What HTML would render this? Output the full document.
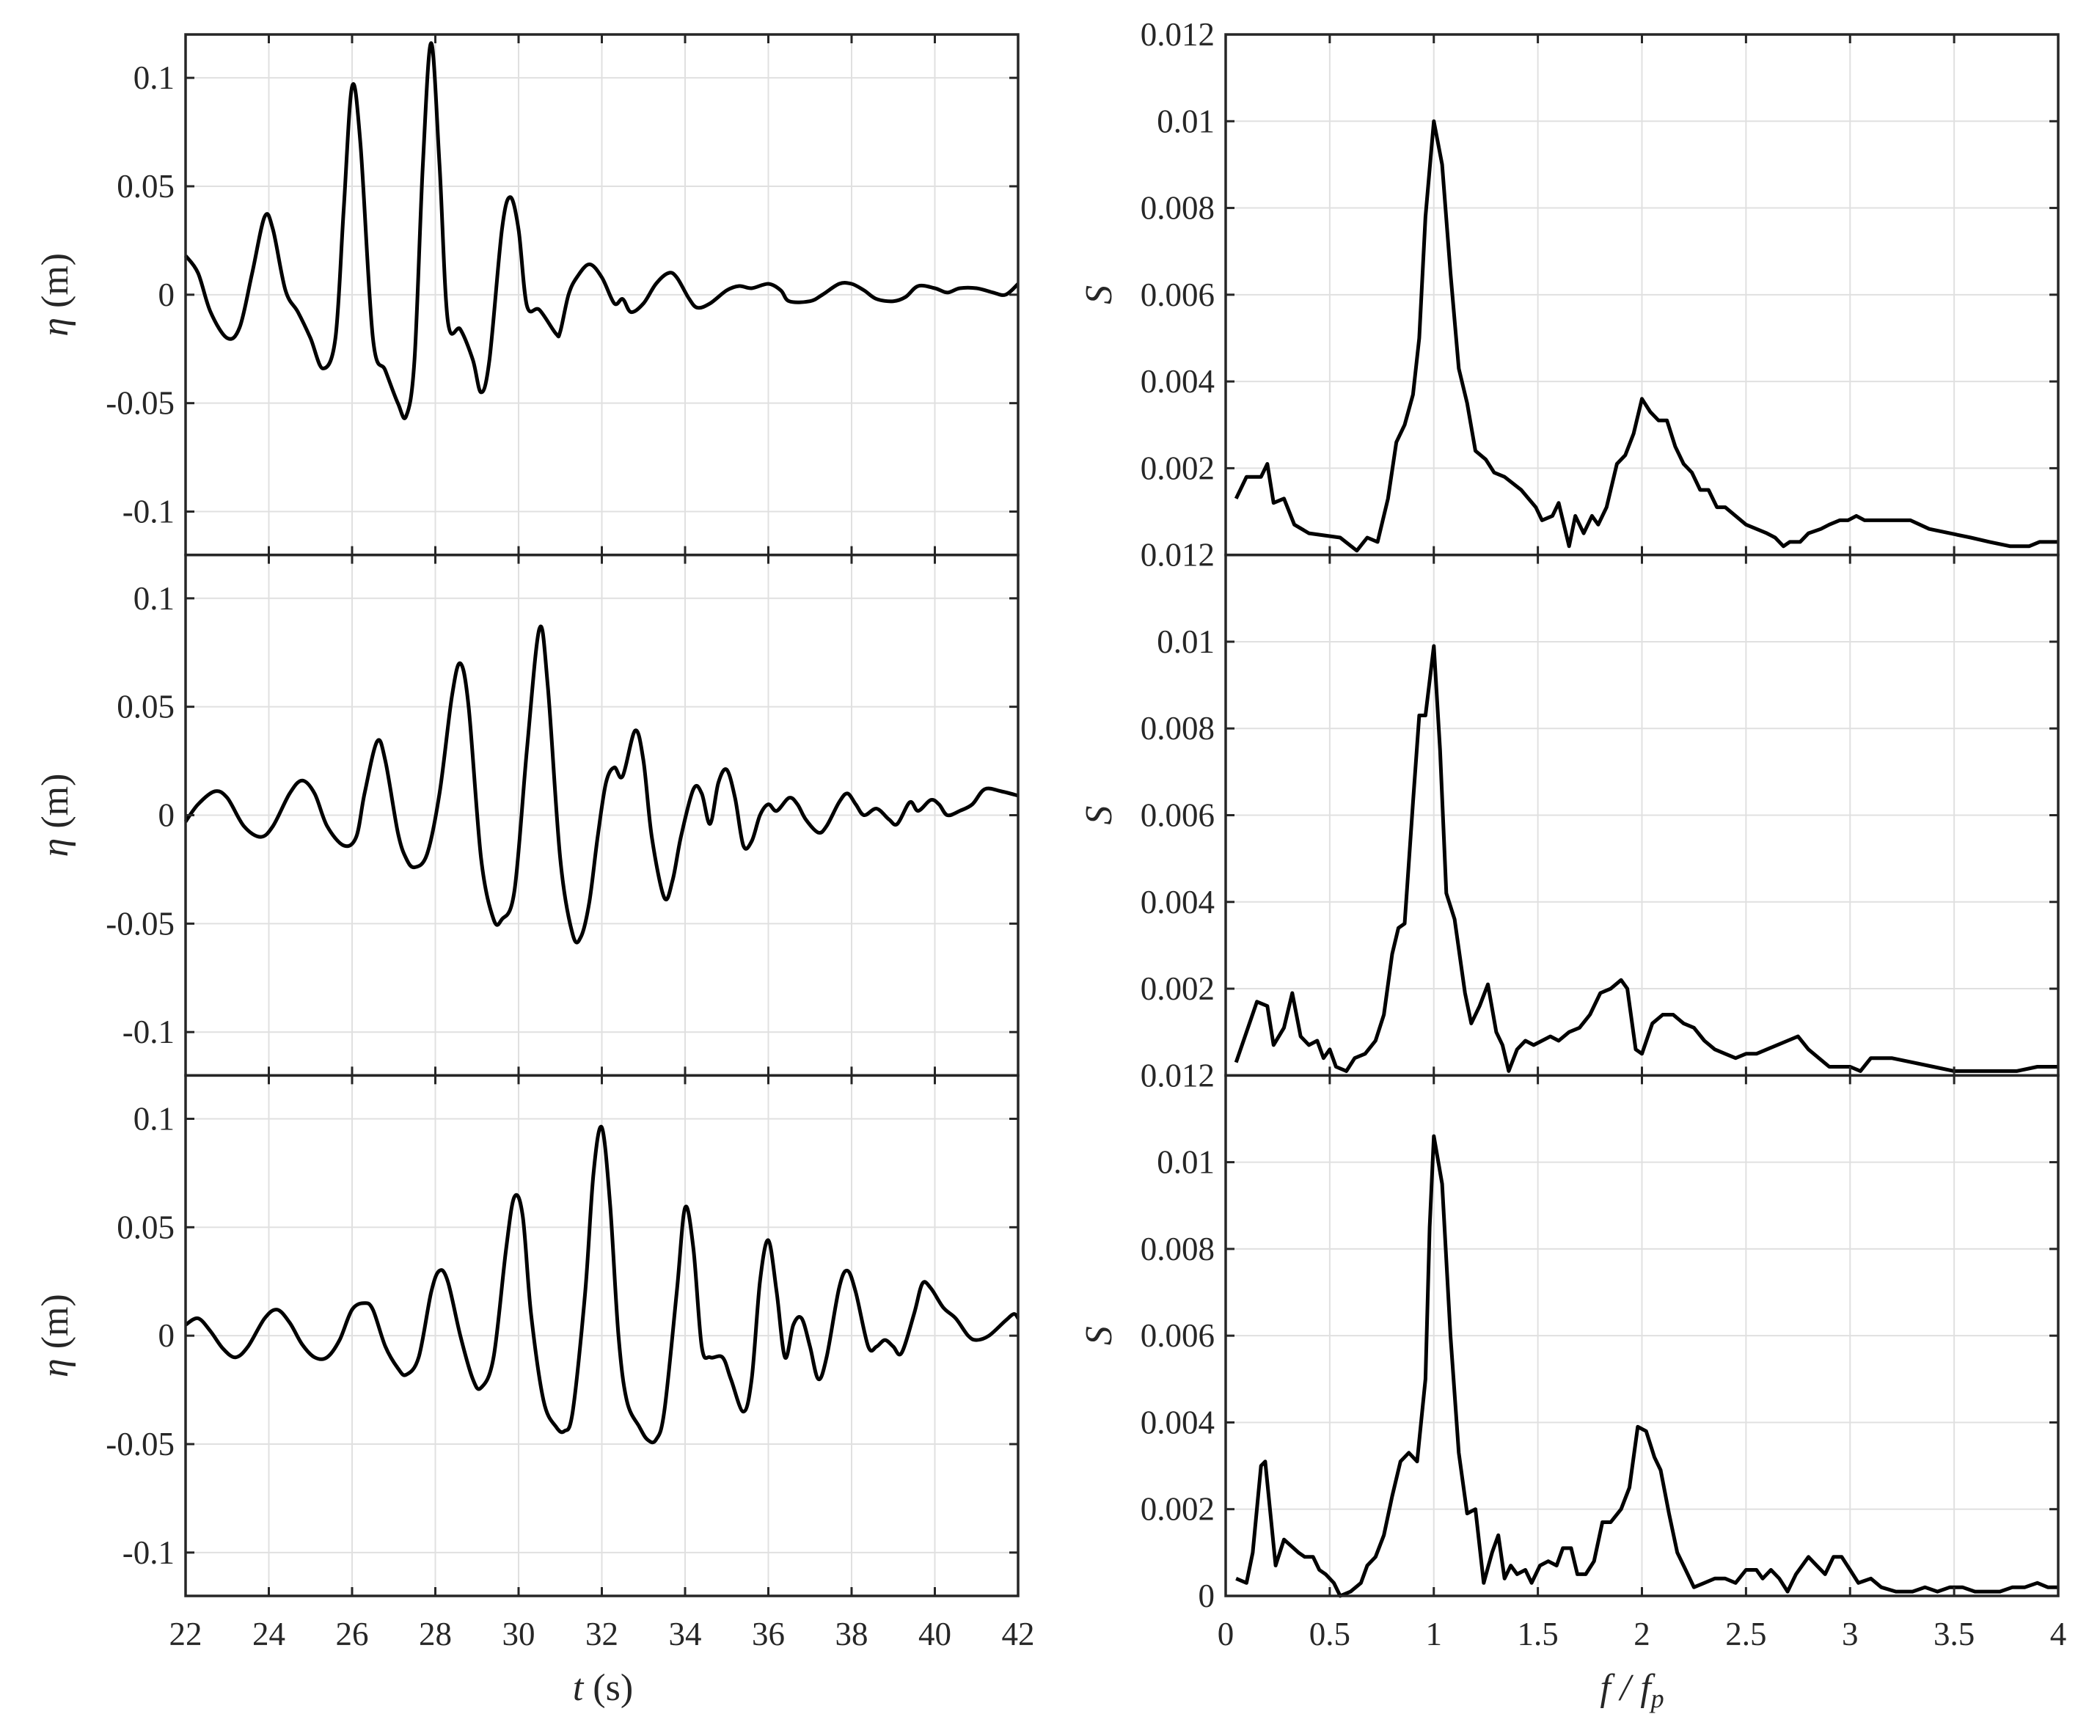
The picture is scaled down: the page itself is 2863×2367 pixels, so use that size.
<!DOCTYPE html>
<html><head><meta charset="utf-8"><style>
html,body{margin:0;padding:0;background:#fff;}
svg text{font-family:"Liberation Serif",serif;fill:#262626;}
</style></head><body>
<svg id="fig" xmlns="http://www.w3.org/2000/svg" width="2863" height="2362" viewBox="0 0 2863 2362"></svg>
<script>
// ---- data ----
const tTicks = [22,24,26,28,30,32,34,36,38,40,42];
const etaTicks = [-0.1,-0.05,0,0.05,0.1];
const etaTickLabels = ["-0.1","-0.05","0","0.05","0.1"];
const fTicks = [0,0.5,1,1.5,2,2.5,3,3.5,4];
const fTickLabels = ["0","0.5","1","1.5","2","2.5","3","3.5","4"];
const sTicks = [0,0.002,0.004,0.006,0.008,0.01,0.012];
const sTickLabels = ["0","0.002","0.004","0.006","0.008","0.01","0.012"];

const t1 = [22.0,22.3,22.6,23.0,23.3,23.6,23.9,24.1,24.4,24.7,25.0,25.3,25.6,25.8,26.0,26.2,26.5,26.8,27.1,27.3,27.5,27.7,27.9,28.1,28.3,28.6,28.9,29.1,29.3,29.6,29.8,30.0,30.2,30.5,30.9,31.0,31.2,31.4,31.7,32.0,32.3,32.5,32.7,33.0,33.3,33.6,33.8,34.1,34.3,34.6,35.0,35.3,35.6,36.0,36.3,36.5,37.0,37.3,37.7,38.0,38.3,38.6,39.0,39.3,39.6,40.0,40.3,40.6,41.0,41.4,41.7,42.0];
const eta1 = [0.018,0.01,-0.008,-0.02,-0.015,0.01,0.036,0.03,0.002,-0.008,-0.02,-0.034,-0.02,0.04,0.096,0.07,-0.02,-0.035,-0.05,-0.056,-0.03,0.06,0.116,0.06,-0.012,-0.016,-0.03,-0.045,-0.03,0.03,0.045,0.03,-0.005,-0.007,-0.018,-0.017,0,0.008,0.014,0.008,-0.004,-0.002,-0.008,-0.004,0.005,0.01,0.008,-0.002,-0.006,-0.004,0.002,0.004,0.003,0.005,0.002,-0.003,-0.003,0.0,0.005,0.005,0.002,-0.002,-0.003,-0.001,0.004,0.003,0.001,0.003,0.003,0.001,0.0,0.005];

const t2 = [22.0,22.3,22.7,23.0,23.4,23.8,24.1,24.5,24.8,25.1,25.4,25.8,26.1,26.3,26.6,26.8,27.1,27.3,27.5,27.8,28.1,28.4,28.6,28.8,29.1,29.4,29.6,29.9,30.2,30.5,30.7,31.0,31.3,31.5,31.7,31.9,32.1,32.3,32.5,32.8,33.0,33.2,33.5,33.7,33.9,34.2,34.4,34.6,34.8,35.0,35.2,35.4,35.6,35.8,36.0,36.2,36.5,36.7,36.9,37.2,37.4,37.7,37.9,38.1,38.3,38.6,38.9,39.1,39.4,39.6,39.9,40.1,40.3,40.6,40.9,41.2,41.6,42.0];
const eta2 = [-0.003,0.005,0.011,0.008,-0.005,-0.01,-0.005,0.01,0.016,0.01,-0.005,-0.014,-0.01,0.01,0.034,0.025,-0.008,-0.02,-0.024,-0.018,0.01,0.055,0.07,0.05,-0.02,-0.048,-0.048,-0.035,0.03,0.086,0.06,-0.02,-0.055,-0.056,-0.04,-0.01,0.015,0.022,0.018,0.039,0.025,-0.01,-0.038,-0.03,-0.01,0.012,0.01,-0.004,0.015,0.021,0.008,-0.014,-0.012,0.0,0.005,0.002,0.008,0.005,-0.002,-0.008,-0.005,0.006,0.01,0.005,0.0,0.003,-0.002,-0.004,0.006,0.002,0.007,0.005,0.0,0.002,0.005,0.012,0.011,0.009];

const t3 = [22.0,22.3,22.6,22.9,23.2,23.5,23.9,24.2,24.5,24.8,25.1,25.4,25.7,26.0,26.3,26.5,26.8,27.1,27.3,27.6,27.9,28.1,28.3,28.6,28.9,29.1,29.4,29.7,29.9,30.1,30.3,30.6,30.9,31.1,31.3,31.6,31.8,32.0,32.2,32.4,32.6,32.9,33.1,33.3,33.5,33.8,34.0,34.2,34.4,34.6,34.9,35.1,35.4,35.6,35.8,36.0,36.2,36.4,36.6,36.8,37.0,37.2,37.4,37.7,37.9,38.1,38.4,38.6,38.8,39.0,39.2,39.5,39.7,39.9,40.2,40.5,40.8,41.0,41.3,41.7,41.9,42.0];
const eta3 = [0.005,0.008,0.002,-0.006,-0.01,-0.005,0.008,0.012,0.006,-0.004,-0.01,-0.01,-0.002,0.012,0.015,0.012,-0.005,-0.015,-0.018,-0.01,0.02,0.03,0.025,0.0,-0.02,-0.024,-0.01,0.04,0.064,0.055,0.01,-0.03,-0.042,-0.044,-0.035,0.02,0.075,0.096,0.06,0.0,-0.03,-0.042,-0.048,-0.048,-0.035,0.02,0.059,0.04,-0.005,-0.01,-0.01,-0.02,-0.035,-0.02,0.025,0.044,0.02,-0.01,0.005,0.008,-0.005,-0.02,-0.01,0.022,0.03,0.02,-0.005,-0.005,-0.002,-0.005,-0.008,0.01,0.024,0.022,0.013,0.008,0.0,-0.002,0.0,0.007,0.01,0.008];

const f1 = [0.05,0.1,0.17,0.2,0.23,0.28,0.33,0.4,0.55,0.63,0.68,0.73,0.78,0.82,0.86,0.9,0.93,0.96,1.0,1.04,1.08,1.12,1.16,1.2,1.25,1.29,1.34,1.42,1.49,1.52,1.57,1.6,1.65,1.68,1.72,1.76,1.79,1.83,1.88,1.92,1.96,2.0,2.04,2.08,2.12,2.16,2.2,2.24,2.28,2.32,2.36,2.4,2.45,2.5,2.55,2.6,2.64,2.68,2.71,2.76,2.8,2.86,2.9,2.95,2.99,3.03,3.07,3.11,3.19,3.29,3.38,3.48,3.58,3.67,3.77,3.86,3.91,4.0];
const s1 = [0.0013,0.0018,0.0018,0.0021,0.0012,0.0013,0.0007,0.0005,0.0004,0.0001,0.0004,0.0003,0.0013,0.0026,0.003,0.0037,0.005,0.0078,0.01,0.009,0.0065,0.0043,0.0035,0.0024,0.0022,0.0019,0.0018,0.0015,0.0011,0.0008,0.0009,0.0012,0.0002,0.0009,0.0005,0.0009,0.0007,0.0011,0.0021,0.0023,0.0028,0.0036,0.0033,0.0031,0.0031,0.0025,0.0021,0.0019,0.0015,0.0015,0.0011,0.0011,0.0009,0.0007,0.0006,0.0005,0.0004,0.0002,0.0003,0.0003,0.0005,0.0006,0.0007,0.0008,0.0008,0.0009,0.0008,0.0008,0.0008,0.0008,0.0006,0.0005,0.0004,0.0003,0.0002,0.0002,0.0003,0.0003];

const f2 = [0.05,0.1,0.15,0.2,0.23,0.28,0.32,0.36,0.4,0.44,0.47,0.5,0.53,0.58,0.62,0.67,0.72,0.76,0.8,0.83,0.86,0.9,0.93,0.96,1.0,1.03,1.06,1.1,1.15,1.18,1.22,1.26,1.3,1.33,1.36,1.4,1.44,1.48,1.52,1.56,1.6,1.65,1.7,1.75,1.8,1.85,1.9,1.93,1.97,2.0,2.05,2.1,2.15,2.2,2.25,2.3,2.35,2.4,2.45,2.5,2.55,2.6,2.65,2.7,2.75,2.8,2.85,2.9,3.0,3.05,3.1,3.2,3.3,3.4,3.5,3.6,3.7,3.8,3.9,4.0];
const s2 = [0.0003,0.001,0.0017,0.0016,0.0007,0.0011,0.0019,0.0009,0.0007,0.0008,0.0004,0.0006,0.0002,0.0001,0.0004,0.0005,0.0008,0.0014,0.0028,0.0034,0.0035,0.0063,0.0083,0.0083,0.0099,0.0075,0.0042,0.0036,0.0019,0.0012,0.0016,0.0021,0.001,0.0007,0.0001,0.0006,0.0008,0.0007,0.0008,0.0009,0.0008,0.001,0.0011,0.0014,0.0019,0.002,0.0022,0.002,0.0006,0.0005,0.0012,0.0014,0.0014,0.0012,0.0011,0.0008,0.0006,0.0005,0.0004,0.0005,0.0005,0.0006,0.0007,0.0008,0.0009,0.0006,0.0004,0.0002,0.0002,0.0001,0.0004,0.0004,0.0003,0.0002,0.0001,0.0001,0.0001,0.0001,0.0002,0.0002];

const f3 = [0.05,0.1,0.13,0.17,0.19,0.24,0.28,0.35,0.38,0.42,0.45,0.48,0.52,0.55,0.6,0.65,0.68,0.72,0.76,0.8,0.84,0.88,0.92,0.96,0.98,1.0,1.04,1.08,1.12,1.16,1.2,1.24,1.28,1.31,1.34,1.37,1.4,1.44,1.47,1.51,1.55,1.59,1.62,1.66,1.69,1.73,1.77,1.81,1.85,1.9,1.94,1.98,2.02,2.06,2.09,2.13,2.17,2.2,2.25,2.3,2.35,2.4,2.45,2.5,2.55,2.58,2.62,2.66,2.7,2.74,2.8,2.84,2.88,2.92,2.96,3.0,3.04,3.1,3.15,3.22,3.3,3.36,3.42,3.48,3.54,3.6,3.66,3.72,3.78,3.84,3.9,3.95,4.0];
const s3 = [0.0004,0.0003,0.001,0.003,0.0031,0.0007,0.0013,0.001,0.0009,0.0009,0.0006,0.0005,0.0003,0.0,0.0001,0.0003,0.0007,0.0009,0.0014,0.0023,0.0031,0.0033,0.0031,0.005,0.0085,0.0106,0.0095,0.006,0.0033,0.0019,0.002,0.0003,0.001,0.0014,0.0004,0.0007,0.0005,0.0006,0.0003,0.0007,0.0008,0.0007,0.0011,0.0011,0.0005,0.0005,0.0008,0.0017,0.0017,0.002,0.0025,0.0039,0.0038,0.0032,0.0029,0.0019,0.001,0.0007,0.0002,0.0003,0.0004,0.0004,0.0003,0.0006,0.0006,0.0004,0.0006,0.0004,0.0001,0.0005,0.0009,0.0007,0.0005,0.0009,0.0009,0.0006,0.0003,0.0004,0.0002,0.0001,0.0001,0.0002,0.0001,0.0002,0.0002,0.0001,0.0001,0.0001,0.0002,0.0002,0.0003,0.0002,0.0002];

// ---- layout ----
const NS = "http://www.w3.org/2000/svg";
const svg = document.getElementById('fig');
const LX0 = 253, LX1 = 1388, RX0 = 1671, RX1 = 2806;
const TOP = 47, BOT = 2176, PH = (BOT - TOP) / 3;
function mk(tag, attrs, parent){ const e = document.createElementNS(NS, tag); for (const k in attrs) e.setAttribute(k, attrs[k]); (parent||svg).appendChild(e); return e; }
const xT = v => LX0 + (v - 22) / 20 * (LX1 - LX0);
const xF = v => RX0 + v / 4 * (RX1 - RX0);
const yEta = (i, v) => TOP + i*PH + (0.12 - v) / 0.24 * PH;
const yS = (i, v) => TOP + i*PH + (0.012 - v) / 0.012 * PH;

function smoothPath(xs, ys){
  let d = `M${xs[0].toFixed(1)},${ys[0].toFixed(1)}`;
  for (let k = 0; k < xs.length-1; k++){
    const x0 = xs[Math.max(k-1,0)], y0 = ys[Math.max(k-1,0)];
    const x1 = xs[k], y1 = ys[k], x2 = xs[k+1], y2 = ys[k+1];
    const x3 = xs[Math.min(k+2,xs.length-1)], y3 = ys[Math.min(k+2,xs.length-1)];
    const c1x = x1 + (x2-x0)/6, c1y = y1 + (y2-y0)/6, c2x = x2 - (x3-x1)/6, c2y = y2 - (y3-y1)/6;
    d += ` C${c1x.toFixed(1)},${c1y.toFixed(1)} ${c2x.toFixed(1)},${c2y.toFixed(1)} ${x2.toFixed(1)},${y2.toFixed(1)}`;
  }
  return d;
}

const etaT = [t1,t2,t3], etaV = [eta1,eta2,eta3];
const specF = [f1,f2,f3], specS = [s1,s2,s3];

for (let i = 0; i < 3; i++){
  const yt = TOP + i*PH, yb = yt + PH;
  const gL = mk('g', {});
  
  
  tTicks.forEach(v => { const l = mk('line', {x1:xT(v), x2:xT(v), y1:yt, y2:yb, stroke:'#e0e0e0','stroke-width':2}, gL);   });
  etaTicks.forEach(v => { const l = mk('line', {x1:LX0, x2:LX1, y1:yEta(i,v), y2:yEta(i,v), stroke:'#e0e0e0','stroke-width':2}, gL);   });
  const pL = mk('path', {d: smoothPath(etaT[i].map(xT), etaV[i].map(v => yEta(i,v))), fill:'none', stroke:'#000','stroke-width':5,'stroke-linejoin':'round'}, gL);
  
  
  tTicks.forEach(v => { mk('line', {x1:xT(v), x2:xT(v), y1:yb, y2:yb-12, stroke:'#262626','stroke-width':3}, gL); mk('line', {x1:xT(v), x2:xT(v), y1:yt, y2:yt+12, stroke:'#262626','stroke-width':3}, gL); });
  etaTicks.forEach((v,k) => {
    mk('line', {x1:LX0, x2:LX0+12, y1:yEta(i,v), y2:yEta(i,v), stroke:'#262626','stroke-width':3}, gL);
    mk('line', {x1:LX1, x2:LX1-12, y1:yEta(i,v), y2:yEta(i,v), stroke:'#262626','stroke-width':3}, gL);
    const tx = mk('text', {x:238, y:yEta(i,v)+15, 'text-anchor':'end','font-size':45}, gL);
    tx.textContent = etaTickLabels[k];
    
    
  });
  const bL = mk('rect', {x:LX0, y:yt, width:LX1-LX0, height:PH, fill:'none', stroke:'#262626','stroke-width':3.5}, gL);
  
  
  const yl = mk('text', {x:0, y:0, 'text-anchor':'middle','font-size':52, transform:`translate(92,${yt+PH/2}) rotate(-90)`}, gL);
  yl.innerHTML = '<tspan font-style="italic">η</tspan> (m)';
  
  

  const gR = mk('g', {});
  
  
  fTicks.forEach(v => { const l = mk('line', {x1:xF(v), x2:xF(v), y1:yt, y2:yb, stroke:'#e0e0e0','stroke-width':2}, gR);   });
  sTicks.forEach(v => { const l = mk('line', {x1:RX0, x2:RX1, y1:yS(i,v), y2:yS(i,v), stroke:'#e0e0e0','stroke-width':2}, gR);   });
  const pts = specF[i].map((f,k) => xF(f).toFixed(1) + ',' + yS(i, specS[i][k]).toFixed(1)).join(' ');
  const pR = mk('polyline', {points: pts, fill:'none', stroke:'#000','stroke-width':5,'stroke-linejoin':'round'}, gR);
  
  
  fTicks.forEach(v => { mk('line', {x1:xF(v), x2:xF(v), y1:yb, y2:yb-12, stroke:'#262626','stroke-width':3}, gR); mk('line', {x1:xF(v), x2:xF(v), y1:yt, y2:yt+12, stroke:'#262626','stroke-width':3}, gR); });
  sTicks.forEach((v,k) => {
    mk('line', {x1:RX0, x2:RX0+12, y1:yS(i,v), y2:yS(i,v), stroke:'#262626','stroke-width':3}, gR);
    mk('line', {x1:RX1, x2:RX1-12, y1:yS(i,v), y2:yS(i,v), stroke:'#262626','stroke-width':3}, gR);
    if (k === 0 && i < 2) return;
    const tx = mk('text', {x:1656, y:yS(i,v)+15, 'text-anchor':'end','font-size':45}, gR);
    tx.textContent = sTickLabels[k];
    
    
  });
  const bR = mk('rect', {x:RX0, y:yt, width:RX1-RX0, height:PH, fill:'none', stroke:'#262626','stroke-width':3.5}, gR);
  
  
  const sl = mk('text', {x:0, y:0, 'text-anchor':'middle','font-size':52,'font-style':'italic', transform:`translate(1515,${yt+PH/2}) rotate(-90)`}, gR);
  sl.textContent = 'S';
  
  
}

tTicks.forEach(v => { const tx = mk('text', {x:xT(v), y:2243, 'text-anchor':'middle','font-size':45}); tx.textContent = String(v);
  
   });
fTicks.forEach((v,k) => { const tx = mk('text', {x:xF(v), y:2243, 'text-anchor':'middle','font-size':45}); tx.textContent = fTickLabels[k];
  
   });

const xl = mk('text', {x:822, y:2318, 'text-anchor':'middle','font-size':52});
xl.innerHTML = '<tspan font-style="italic">t</tspan> (s)';


const xl2 = mk('text', {x:2225, y:2318, 'text-anchor':'middle','font-size':52,'font-style':'italic'});
xl2.innerHTML = 'f / f<tspan font-size="36" dy="10">p</tspan>';


</script>
</body></html>
